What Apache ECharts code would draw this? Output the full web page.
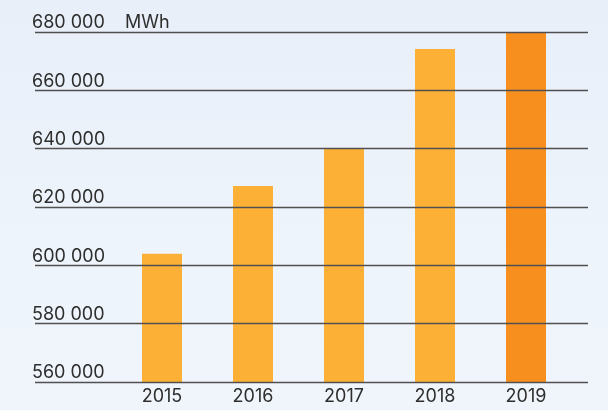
<!DOCTYPE html>
<html>
<head>
<meta charset="utf-8">
<script src="https://cdn.jsdelivr.net/npm/echarts@6/dist/echarts.min.js"></script>
<style>
    html, body { margin: 0; padding: 0; }
    body { background: linear-gradient(180deg, #e8eff9 0%, #eef4fb 60%, #f0f5fc 100%); }
    #myCharts { width: 608px; height: 410px; }
</style>
</head>
<body>
<div id="myCharts"></div>
<script>
// 年份
const years = ['2015', '2016', '2017', '2018', '2019']
// 发电量 MWh
const values = [604000, 627200, 640000, 674200, 679700]
const barColors = ['#FCB036', '#FCB036', '#FCB036', '#FCB036', '#F78F1F']
const yMin = 560000
const yMax = 680000
const yStep = 20000

const textColor = '#2e2e2e'
const fontFamily = 'Inter, "DejaVu Sans", sans-serif'

let myChart = echarts.init(document.getElementById('myCharts'))

let options = {
    animation: false,
    textStyle: { fontFamily: fontFamily },
    grid: [
        //网格线区域
        { left: 35, right: 20, top: 32, bottom: 28 },
        //柱子区域
        { left: 116.5, width: 455, top: 32, bottom: 28 }
    ],
    xAxis: [
        { gridIndex: 0, type: 'value', show: false },
        {
            gridIndex: 1,
            type: 'category',
            data: years,
            axisLine: { show: false },
            axisTick: { show: false },
            axisLabel: {
                color: textColor,
                fontSize: 18,
                fontFamily: fontFamily,
                margin: 6
            }
        }
    ],
    yAxis: [
        {
            gridIndex: 0,
            type: 'value',
            min: yMin,
            max: yMax,
            interval: yStep,
            z: 5,
            axisLine: { show: false },
            axisTick: { show: false },
            splitLine: { lineStyle: { color: '#505050', width: 1.3 } },
            axisLabel: {
                inside: true,
                margin: -3,
                align: 'left',
                verticalAlign: 'bottom',
                color: textColor,
                fontSize: 18,
                fontFamily: fontFamily,
                formatter: v => {
                    let s = String(v).replace(/\B(?=(\d{3})+(?!\d))/g, ' ')
                    return v === yMax ? s + '    MWh' : s
                }
            }
        },
        {
            gridIndex: 1,
            type: 'value',
            min: yMin,
            max: yMax,
            interval: yStep,
            show: false
        },
        //左侧小刻度点
        {
            gridIndex: 0,
            type: 'value',
            min: 0,
            max: 9,
            interval: 1,
            offset: 33,
            axisLine: { show: false },
            axisLabel: { show: false },
            splitLine: { show: false },
            axisTick: { show: true, length: 2, lineStyle: { color: '#8a8f99', width: 1 } }
        }
    ],
    series: [
        {
            type: 'bar',
            xAxisIndex: 1,
            yAxisIndex: 1,
            barWidth: 40,
            z: 2,
            data: values.map((v, i) => ({ value: v, itemStyle: { color: barColors[i] } }))
        }
    ]
}

myChart.setOption(options)
</script>
</body>
</html>
